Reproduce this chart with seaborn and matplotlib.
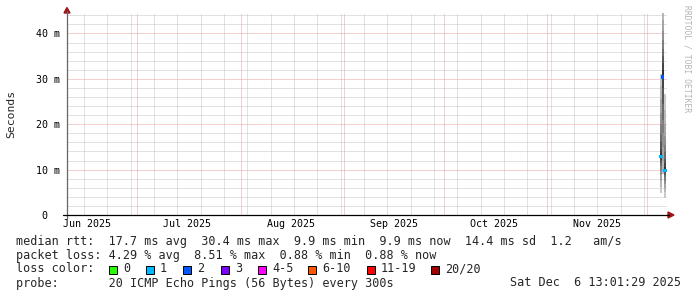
import numpy as np
import pandas as pd
import matplotlib
matplotlib.use("Agg")
import matplotlib.pyplot as plt
from matplotlib.patches import Rectangle, Polygon
from matplotlib.lines import Line2D
import seaborn as sns
from datetime import datetime, timedelta

# ---------------- data ----------------
sample_times = ["2025-12-05 03:00", "2025-12-05 16:00", "2025-12-06 07:30"]
median_ms = [12.8, 30.4, 9.9]
loss_level = ["1", "2", "1"]
# sorted ping rtts (ms) per sample, NaN = lost ping
pings_1 = [4.0, 4.8, 6.2, 7.6, 8.8, 9.8, 10.7, 11.5, 12.2, 12.8,
           13.6, 14.6, 16.0, 17.8, 20.0, 22.5, 25.5, 28.5, 31.0, np.nan]
pings_2 = [5.0, 6.5, 9.0, 12.0, 15.0, 18.0, 21.0, 24.5, 28.0, 30.4,
           32.0, 33.5, 35.0, 36.5, 38.5, 40.5, 43.0, 60.0, np.nan, np.nan]
pings_3 = [3.0, 3.7, 5.0, 6.0, 6.8, 7.6, 8.3, 8.9, 9.4, 9.9,
           10.6, 11.4, 12.4, 13.8, 15.4, 17.4, 20.0, 23.2, 26.6, np.nan]

loss_names = ["0", "1", "2", "3", "4-5", "6-10", "11-19", "20/20"]
loss_colors = ["#26ff00", "#00b8ff", "#0059ff", "#7e00ff",
               "#ff00ff", "#ff5500", "#ff0000", "#a10000"]

y_ticks_ms = [0, 10, 20, 30, 40]
y_tick_labels = ["0  ", "10 m", "20 m", "30 m", "40 m"]
month_labels = ["Jun 2025", "Jul 2025", "Aug 2025", "Sep 2025", "Oct 2025", "Nov 2025"]
month_label_dates = ["2025-06-16", "2025-07-16", "2025-08-16",
                     "2025-09-16", "2025-10-16", "2025-11-16"]
month_starts = ["2025-07-01", "2025-08-01", "2025-09-01",
                "2025-10-01", "2025-11-01", "2025-12-01"]

legend_rtt = "median rtt:  17.7 ms avg  30.4 ms max  9.9 ms min  9.9 ms now  14.4 ms sd  1.2   am/s"
legend_loss = "packet loss: 4.29 % avg  8.51 % max  0.88 % min  0.88 % now"
legend_probe = "probe:       20 ICMP Echo Pings (56 Bytes) every 300s"
legend_date = "Sat Dec  6 13:01:29 2025"

# ---------------- style ----------------
sns.set_style("white")
plt.rcParams["font.family"] = ["DejaVu Sans Mono", "DejaVu Sans"]

W, H = 697, 297
fig = plt.figure(figsize=(W / 100, H / 100), dpi=100)
fig.patch.set_facecolor("white")

def fx(px):
    return px / W

def fy(py):
    return 1 - py / H

L, R, T, B = 67, 667, 13, 215
ax = fig.add_axes([fx(L), fy(B), (R - L) / W, (B - T) / H])
ax.set_facecolor("white")

start = datetime(2025, 6, 9, 22, 0)
end = start + timedelta(days=180)
ymax = 0.0445
ax.set_xlim(start, end)
ax.set_ylim(0, ymax)

grey = "#c4c4c4"
red = "#e8a0a0"
dot = (0, (1, 1))
lw = 0.72

# horizontal grid
for v in range(2, 45, 2):
    c = red if v % 10 == 0 else grey
    ax.axhline(v / 1000, color=c, lw=lw, ls=dot, zorder=0)
# vertical grid: weekly minor, monthly major
wk = datetime(2025, 6, 15)
while wk < end:
    ax.axvline(wk, color=grey, lw=lw, ls=dot, zorder=0)
    wk += timedelta(days=7)
for ms in month_starts:
    ax.axvline(pd.Timestamp(ms), color=red, lw=lw, ls=dot, zorder=0)

# smoke
col_width = [0.45, 0.7, 0.6]
for t, pings, w in zip(sample_times, [pings_1, pings_2, pings_3], col_width):
    p = np.array(pings) / 1000.0
    half = 10
    for ibot in range(1, half + 1):
        itop = 21 - ibot
        lo, hi = p[ibot - 1], p[itop - 1]
        if np.isnan(lo) or np.isnan(hi):
            continue
        g = int(190 / half * (half - ibot)) + 50
        col = "#%02x%02x%02x" % (g, g, g)
        ax.bar(pd.Timestamp(t), hi - lo, bottom=lo, width=w, color=col,
               linewidth=0, align="center", zorder=2)

# medians coloured by loss
med_df = pd.DataFrame({
    "time": pd.to_datetime(sample_times),
    "median": np.array(median_ms) / 1000.0,
    "loss": loss_level,
})
pal = dict(zip(loss_names, loss_colors))
sns.scatterplot(data=med_df, x="time", y="median", hue="loss", palette=pal,
                marker="s", s=5, linewidth=0, legend=False, ax=ax, zorder=3)

# ticks
ax.set_yticks([v / 1000 for v in y_ticks_ms])
ax.set_yticklabels(y_tick_labels)
ax.set_xticks([pd.Timestamp(d) for d in month_label_dates])
ax.set_xticklabels(month_labels)
ax.tick_params(axis="both", length=0, labelsize=7.2, colors="black")
ax.tick_params(axis="y", pad=5)
ax.tick_params(axis="x", pad=3)
ax.set_xlabel("")
ax.set_ylabel("")
for s in ax.spines.values():
    s.set_visible(False)

# axes lines and arrows (figure pixel coordinates)
fig.add_artist(Line2D([fx(67), fx(67)], [fy(218), fy(11)], color="#666666", lw=0.9))
fig.add_artist(Line2D([fx(63), fx(669)], [fy(215), fy(215)], color="black", lw=0.9))
arrow_c = "#9e1515"
fig.add_artist(Polygon([(fx(64), fy(13)), (fx(70), fy(13)), (fx(67), fy(7.5))],
                       closed=True, color=arrow_c, transform=fig.transFigure))
fig.add_artist(Polygon([(fx(668), fy(212)), (fx(668), fy(218)), (fx(674), fy(215))],
                       closed=True, color=arrow_c, transform=fig.transFigure))

# labels
fig.text(fx(11), fy(114), "Seconds", rotation=90, ha="center", va="center", fontsize=8.2)
fig.text(fx(687), fy(5), "RRDTOOL / TOBI OETIKER", rotation=270, ha="center",
         va="top", fontsize=5.8, color="#b4b4b4")

lg = 8.5
fig.text(fx(16), fy(241), legend_rtt, ha="left", va="center", fontsize=lg)
fig.text(fx(16), fy(255), legend_loss, ha="left", va="center", fontsize=lg)
fig.text(fx(16), fy(269), "loss color:", ha="left", va="center", fontsize=lg)
box_x = [109, 146, 183, 221, 258, 308, 367, 431]
for bx, name, c in zip(box_x, loss_names, loss_colors):
    fig.add_artist(Rectangle((fx(bx), fy(273.5)), 8 / W, 8 / H, facecolor=c,
                             edgecolor="black", lw=0.7, transform=fig.transFigure))
    fig.text(fx(bx + 14), fy(269), name, ha="left", va="center", fontsize=lg)
fig.text(fx(16), fy(283), legend_probe, ha="left", va="center", fontsize=lg)
fig.text(fx(681), fy(283), legend_date, ha="right", va="center", fontsize=lg)

fig.savefig("out.png", dpi=100, facecolor="white")
